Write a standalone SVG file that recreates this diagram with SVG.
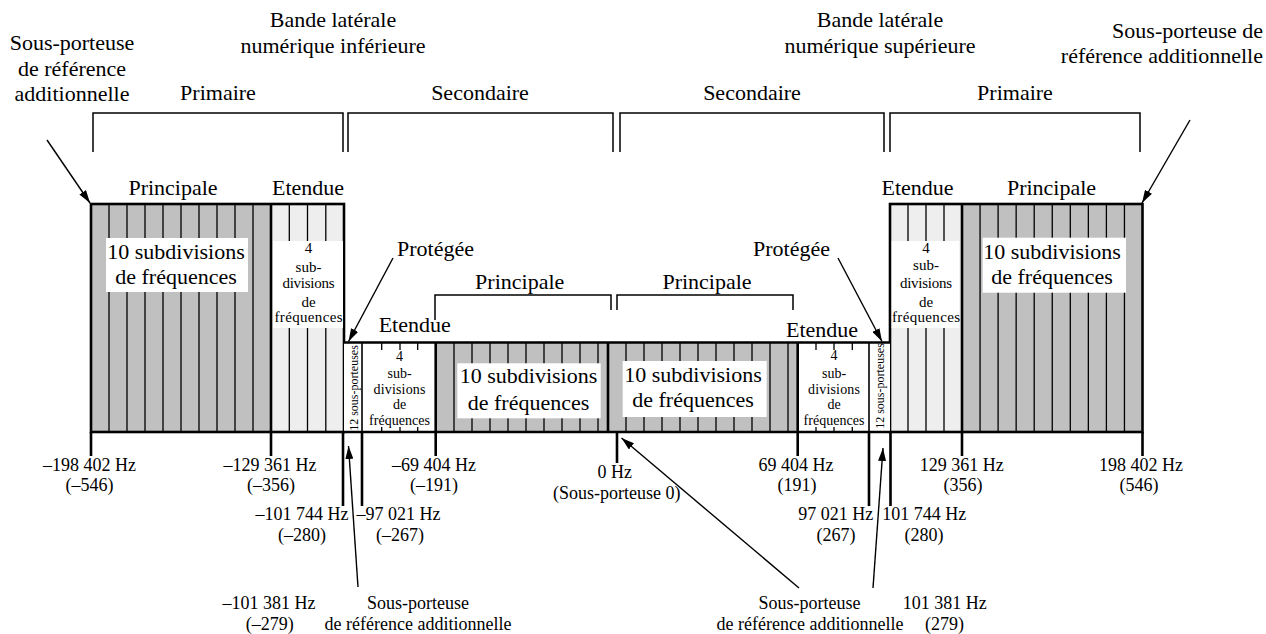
<svg xmlns="http://www.w3.org/2000/svg" width="1266" height="634" viewBox="0 0 1266 634" font-family="'Liberation Serif', 'DejaVu Serif', serif">
<defs>
<marker id="ah" markerUnits="userSpaceOnUse" markerWidth="14" markerHeight="8" refX="13" refY="4" orient="auto">
<path d="M0,0 L13,4 L0,8 z" fill="#000"/>
</marker>
</defs>
<style>
text{font-family:'Liberation Serif','DejaVu Serif',serif;fill:#000;text-anchor:middle}
.f22{font-size:22px}
.f18{font-size:18px}
.f15{font-size:15px}
.f14{font-size:14px}
.f12{font-size:12px}
.thick{stroke:#000;stroke-width:2.6;fill:none}
.thin{stroke:#000;stroke-width:1.3;fill:none}
.mid{stroke:#000;stroke-width:1.6;fill:none}
.br{stroke:#000;stroke-width:1.5;fill:none}
.gray{fill:#c0c0c0}
.light{fill:#eeeeee}
.white{fill:#fff}
.arr{stroke:#000;stroke-width:1.4;fill:none;marker-end:url(#ah)}
</style>
<rect width="1266" height="634" fill="#fff"/>

<g id="top-labels">
<text class="f22" x="72" y="50">Sous-porteuse</text>
<text class="f22" x="72" y="76">de référence</text>
<text class="f22" x="72" y="101">additionnelle</text>
<text class="f22" x="333" y="27">Bande latérale</text>
<text class="f22" x="333" y="53">numérique inférieure</text>
<text class="f22" x="880" y="27">Bande latérale</text>
<text class="f22" x="880" y="53">numérique supérieure</text>
<text class="f22" x="1263" y="38" style="text-anchor:end">Sous-porteuse de</text>
<text class="f22" x="1263" y="63" style="text-anchor:end">référence additionnelle</text>
<text class="f22" x="218" y="100">Primaire</text>
<text class="f22" x="480" y="100">Secondaire</text>
<text class="f22" x="752" y="100">Secondaire</text>
<text class="f22" x="1015" y="100">Primaire</text>
</g>

<g id="brackets">
<path class="br" d="M93,152 V113 H343 V152"/>
<path class="br" d="M348,152 V113 H613 V152"/>
<path class="br" d="M620,152 V113 H884 V152"/>
<path class="br" d="M890,152 V113 H1140 V152"/>
<path class="br" d="M435,320 V295 H611 V310"/>
<path class="br" d="M617,310 V295 H793 V310"/>
</g>

<g id="lower-primary">
<rect class="gray" x="91" y="204" width="180" height="228"/>
<rect class="light" x="271" y="204" width="73" height="228"/>
<path class="thin" d="M109,204V432M127,204V432M145,204V432M163,204V432M181,204V432M199,204V432M217,204V432M235,204V432M253,204V432M289.3,204V432M307.5,204V432M325.8,204V432"/>
<rect class="thick" x="91" y="204" width="253" height="228"/>
<line class="thick" x1="271" y1="204" x2="271" y2="432"/>
<text class="f22" x="173" y="195">Principale</text>
<text class="f22" x="308" y="195">Etendue</text>
<rect class="white" x="106" y="238" width="142" height="54"/>
<text class="f22" x="176" y="259">10 subdivisions</text>
<text class="f22" x="176" y="284">de fréquences</text>
<rect class="white" x="273" y="241" width="70" height="87"/>
<text class="f15" x="308.5" y="253">4</text>
<text class="f15" x="308.5" y="271.5">sub-</text>
<text class="f15" x="308.5" y="287.5" textLength="52">divisions</text>
<text class="f15" x="308.5" y="306.5">de</text>
<text class="f15" x="308.5" y="321.5" textLength="68">fréquences</text>
</g>

<g id="upper-primary">
<rect class="light" x="890" y="204" width="72" height="228"/>
<rect class="gray" x="962" y="204" width="180.5" height="228"/>
<path class="thin" d="M908,204V432M926,204V432M944,204V432M980.05,204V432M998.1,204V432M1016.15,204V432M1034.2,204V432M1052.25,204V432M1070.3,204V432M1088.35,204V432M1106.4,204V432M1124.45,204V432"/>
<rect class="thick" x="890" y="204" width="252.5" height="228"/>
<line class="thick" x1="962" y1="204" x2="962" y2="432"/>
<text class="f22" x="917.5" y="195">Etendue</text>
<text class="f22" x="1051.5" y="195">Principale</text>
<rect class="white" x="982.7" y="237.7" width="143.3" height="55"/>
<text class="f22" x="1052" y="259">10 subdivisions</text>
<text class="f22" x="1052" y="284">de fréquences</text>
<rect class="white" x="891.7" y="241" width="67.6" height="87"/>
<text class="f15" x="926" y="253">4</text>
<text class="f15" x="926" y="270">sub-</text>
<text class="f15" x="926" y="287.5" textLength="52">divisions</text>
<text class="f15" x="926" y="306.5">de</text>
<text class="f15" x="926" y="321.5" textLength="68">fréquences</text>
</g>

<g id="lower-secondary">
<rect class="white" x="344" y="342.5" width="18" height="89.5"/>
<rect class="white" x="362" y="342.5" width="73.7" height="89.5"/>
<rect class="gray" x="435.7" y="342.5" width="172.3" height="89.5"/>
<path class="thin" d="M381.7,342.5V432M400,342.5V432M417.7,342.5V432M454,342.5V432M472,342.5V432M490,342.5V432M508,342.5V432M526,342.5V432M544,342.5V432M562,342.5V432M580,342.5V432M598,342.5V432"/>
<rect class="white" x="457.3" y="363.3" width="143.4" height="55"/>
<text class="f22" x="528.5" y="383">10 subdivisions</text>
<text class="f22" x="528.5" y="410">de fréquences</text>
<rect class="white" x="363.5" y="350" width="65" height="77"/>
<text class="f14" x="399.5" y="361">4</text>
<text class="f14" x="399.5" y="378">sub-</text>
<text class="f14" x="399.5" y="394" textLength="52">divisions</text>
<text class="f14" x="399.5" y="409">de</text>
<text class="f14" x="399.5" y="425" textLength="61">fréquences</text>
<text class="f12" transform="translate(357.5,388) rotate(-90)">12 sous-porteuses</text>
<text class="f22" x="414.7" y="331.5">Etendue</text>
<text class="f22" x="519.7" y="289.3">Principale</text>
</g>

<g id="upper-secondary">
<rect class="gray" x="608" y="342.5" width="189.7" height="89.5"/>
<rect class="white" x="797.7" y="342.5" width="71.3" height="89.5"/>
<rect class="white" x="869" y="342.5" width="21" height="89.5"/>
<path class="thin" d="M626,342.5V432M644,342.5V432M662,342.5V432M680,342.5V432M698,342.5V432M716,342.5V432M734,342.5V432M752,342.5V432M770,342.5V432M788,342.5V432M816,342.5V432M834,342.5V432M852.3,342.5V432"/>
<rect class="white" x="622.7" y="361" width="144" height="56"/>
<text class="f22" x="693" y="382">10 subdivisions</text>
<text class="f22" x="693" y="407">de fréquences</text>
<rect class="white" x="801.7" y="350" width="61.6" height="77"/>
<text class="f14" x="834" y="360">4</text>
<text class="f14" x="834" y="378">sub-</text>
<text class="f14" x="834" y="394" textLength="52">divisions</text>
<text class="f14" x="834" y="409">de</text>
<text class="f14" x="834" y="425" textLength="61">fréquences</text>
<text class="f12" transform="translate(883.5,386) rotate(-90)">12 sous-porteuses</text>
<text class="f22" x="822" y="336.5">Etendue</text>
<text class="f22" x="707" y="289.3">Principale</text>
</g>

<g id="secondary-frame">
<path class="thick" d="M344,342.5 H890 M344,432 H890 M435.7,342.5 V432 M608,342.5 V432 M797.7,342.5 V432"/>
<path class="mid" d="M362,342.5 V432 M869,342.5 V432"/>
</g>

<g id="axis-ticks">
<path class="thick" d="M91,432V456 M271,432V456 M435.7,432V456 M797.7,432V456 M962,432V456 M1142.5,432V456 M617,432V463 M343,432V506 M362,432V506 M869,432V506 M890.5,432V506"/>
</g>

<g id="freq-labels">
<text class="f18" x="89.5" y="471">–198 402 Hz</text>
<text class="f18" x="89.5" y="491">(–546)</text>
<text class="f18" x="270" y="471">–129 361 Hz</text>
<text class="f18" x="271" y="491">(–356)</text>
<text class="f18" x="302" y="520">–101 744 Hz</text>
<text class="f18" x="302" y="540.5">(–280)</text>
<text class="f18" x="398.5" y="520">–97 021 Hz</text>
<text class="f18" x="400" y="540.5">(–267)</text>
<text class="f18" x="434" y="471">–69 404 Hz</text>
<text class="f18" x="434" y="491">(–191)</text>
<text class="f18" x="614.7" y="478">0 Hz</text>
<text class="f18" x="616.7" y="498.5">(Sous-porteuse 0)</text>
<text class="f18" x="796" y="471">69 404 Hz</text>
<text class="f18" x="797" y="491">(191)</text>
<text class="f18" x="835.8" y="520">97 021 Hz</text>
<text class="f18" x="836" y="540.5">(267)</text>
<text class="f18" x="924.3" y="520">101 744 Hz</text>
<text class="f18" x="924" y="540.5">(280)</text>
<text class="f18" x="961.7" y="471">129 361 Hz</text>
<text class="f18" x="963" y="491">(356)</text>
<text class="f18" x="1141" y="471">198 402 Hz</text>
<text class="f18" x="1139" y="491">(546)</text>
<text class="f18" x="269" y="609">–101 381 Hz</text>
<text class="f18" x="269.7" y="629.5">(–279)</text>
<text class="f18" x="944.7" y="609">101 381 Hz</text>
<text class="f18" x="944.5" y="629.5">(279)</text>
<text class="f18" x="418" y="609">Sous-porteuse</text>
<text class="f18" x="418" y="629.5">de référence additionnelle</text>
<text class="f18" x="809.5" y="609">Sous-porteuse</text>
<text class="f18" x="810" y="629.5">de référence additionnelle</text>
</g>

<g id="protegee">
<text class="f22" x="397" y="256" style="text-anchor:start">Protégée</text>
<text class="f22" x="830" y="256" style="text-anchor:end">Protégée</text>
</g>

<g id="connectors">
<line class="arr" x1="47" y1="140" x2="90" y2="203"/>
<line class="arr" x1="1190" y1="120" x2="1142" y2="203"/>
<line class="arr" x1="393" y1="258" x2="348.5" y2="341.5"/>
<line class="arr" x1="838" y1="258" x2="882" y2="341.5"/>
<line class="arr" x1="358" y1="587" x2="348.5" y2="446"/>
<line class="arr" x1="799" y1="588" x2="621.5" y2="438"/>
<line class="arr" x1="873" y1="588" x2="883" y2="448"/>
</g>
</svg>
